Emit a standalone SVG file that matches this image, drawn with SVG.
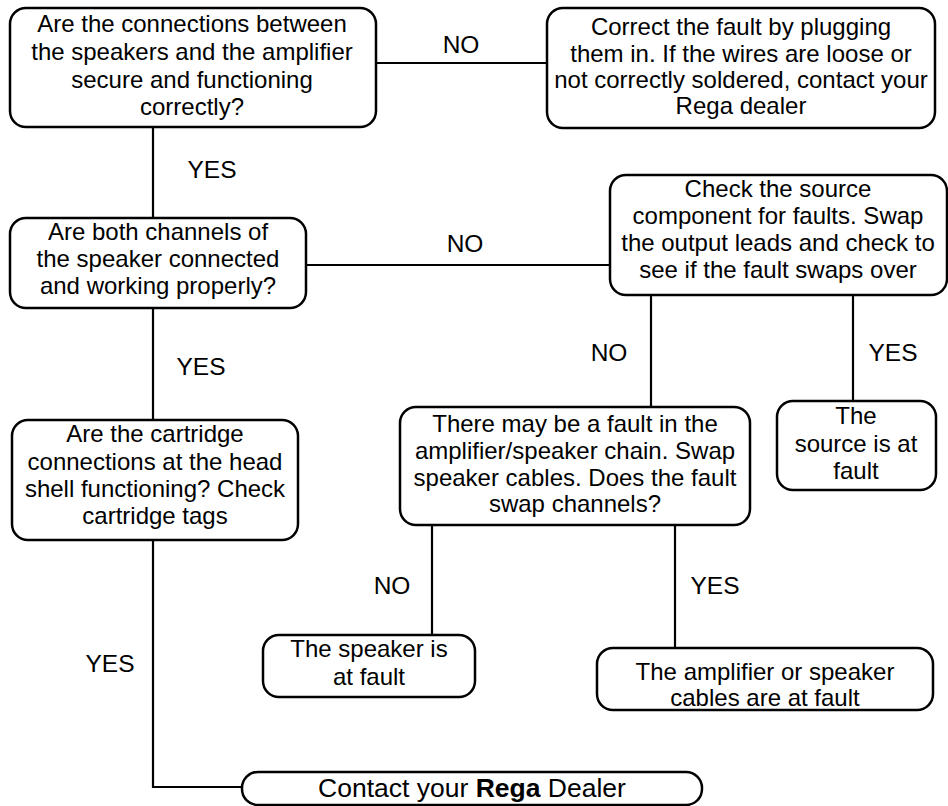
<svg xmlns="http://www.w3.org/2000/svg" width="948" height="806" viewBox="0 0 948 806">
<style>
.box{fill:#fff;stroke:#000;stroke-width:2.5}
.t{font-family:"Liberation Sans",Arial,sans-serif;font-size:24px;fill:#000;text-anchor:middle}
.lbl{font-family:"Liberation Sans",Arial,sans-serif;font-size:24.5px;fill:#000;text-anchor:middle}
.c{fill:none;stroke:#000;stroke-width:2.2}
</style>
<rect width="948" height="806" fill="#fff"/>
<g id="connectors">
<line class="c" x1="376" y1="63" x2="547" y2="63"/>
<line class="c" x1="153" y1="127" x2="153" y2="218"/>
<line class="c" x1="306" y1="265" x2="610" y2="265"/>
<line class="c" x1="651" y1="295" x2="651" y2="407"/>
<line class="c" x1="853" y1="295" x2="853" y2="401"/>
<line class="c" x1="153" y1="308" x2="153" y2="420"/>
<line class="c" x1="432" y1="525" x2="432" y2="635"/>
<line class="c" x1="675" y1="525" x2="675" y2="648"/>
<polyline class="c" points="153,540 153,787 242,787"/>
<text class="lbl" x="461" y="53">NO</text>
<text class="lbl" x="212" y="178">YES</text>
<text class="lbl" x="465" y="252">NO</text>
<text class="lbl" x="609" y="361">NO</text>
<text class="lbl" x="893" y="361">YES</text>
<text class="lbl" x="201" y="375">YES</text>
<text class="lbl" x="392" y="594">NO</text>
<text class="lbl" x="715" y="594">YES</text>
<text class="lbl" x="110" y="672">YES</text>
</g>
<g id="n1">
<rect class="box" x="10" y="8" width="366" height="119" rx="16"/>
<text class="t" x="192" y="32">Are the connections between</text>
<text class="t" x="192" y="60">the speakers and the amplifier</text>
<text class="t" x="192" y="88">secure and functioning</text>
<text class="t" x="192" y="115">correctly?</text>
</g>
<g id="n2">
<rect class="box" x="547" y="8" width="388" height="120" rx="16"/>
<text class="t" x="741" y="35">Correct the fault by plugging</text>
<text class="t" x="741" y="62">them in. If the wires are loose or</text>
<text class="t" x="741" y="88">not correctly soldered, contact your</text>
<text class="t" x="741" y="114">Rega dealer</text>
</g>
<g id="n3">
<rect class="box" x="10" y="218" width="296" height="90" rx="16"/>
<text class="t" x="158" y="240">Are both channels of</text>
<text class="t" x="158" y="267">the speaker connected</text>
<text class="t" x="158" y="294">and working properly?</text>
</g>
<g id="n4">
<rect class="box" x="610" y="175" width="337" height="120" rx="16"/>
<text class="t" x="778" y="197">Check the source</text>
<text class="t" x="778" y="224">component for faults. Swap</text>
<text class="t" x="778" y="251">the output leads and check to</text>
<text class="t" x="778" y="278">see if the fault swaps over</text>
</g>
<g id="n5">
<rect class="box" x="400" y="407" width="350" height="118" rx="16"/>
<text class="t" x="575" y="432">There may be a fault in the</text>
<text class="t" x="575" y="459">amplifier/speaker chain. Swap</text>
<text class="t" x="575" y="486">speaker cables. Does the fault</text>
<text class="t" x="575" y="512">swap channels?</text>
</g>
<g id="n6">
<rect class="box" x="777" y="401" width="159" height="89" rx="16"/>
<text class="t" x="856" y="424">The</text>
<text class="t" x="856" y="452">source is at</text>
<text class="t" x="856" y="479">fault</text>
</g>
<g id="n7">
<rect class="box" x="263" y="635" width="212" height="62" rx="16"/>
<text class="t" x="369" y="657">The speaker is</text>
<text class="t" x="369" y="685">at fault</text>
</g>
<g id="n8">
<rect class="box" x="597" y="648" width="336" height="62" rx="16"/>
<text class="t" x="765" y="680">The amplifier or speaker</text>
<text class="t" x="765" y="706">cables are at fault</text>
</g>
<g id="n10">
<rect class="box" x="12" y="420" width="286" height="120" rx="16"/>
<text class="t" x="155" y="442">Are the cartridge</text>
<text class="t" x="155" y="470">connections at the head</text>
<text class="t" x="155" y="497">shell functioning? Check</text>
<text class="t" x="155" y="524">cartridge tags</text>
</g>
<g id="n9">
<rect class="box" x="242" y="772" width="460" height="33" rx="16"/>
<text class="t" x="472" y="797" font-size="26.5px" style="font-size:26.5px">Contact your <tspan font-weight="bold">Rega</tspan> Dealer</text>
</g>
</svg>
